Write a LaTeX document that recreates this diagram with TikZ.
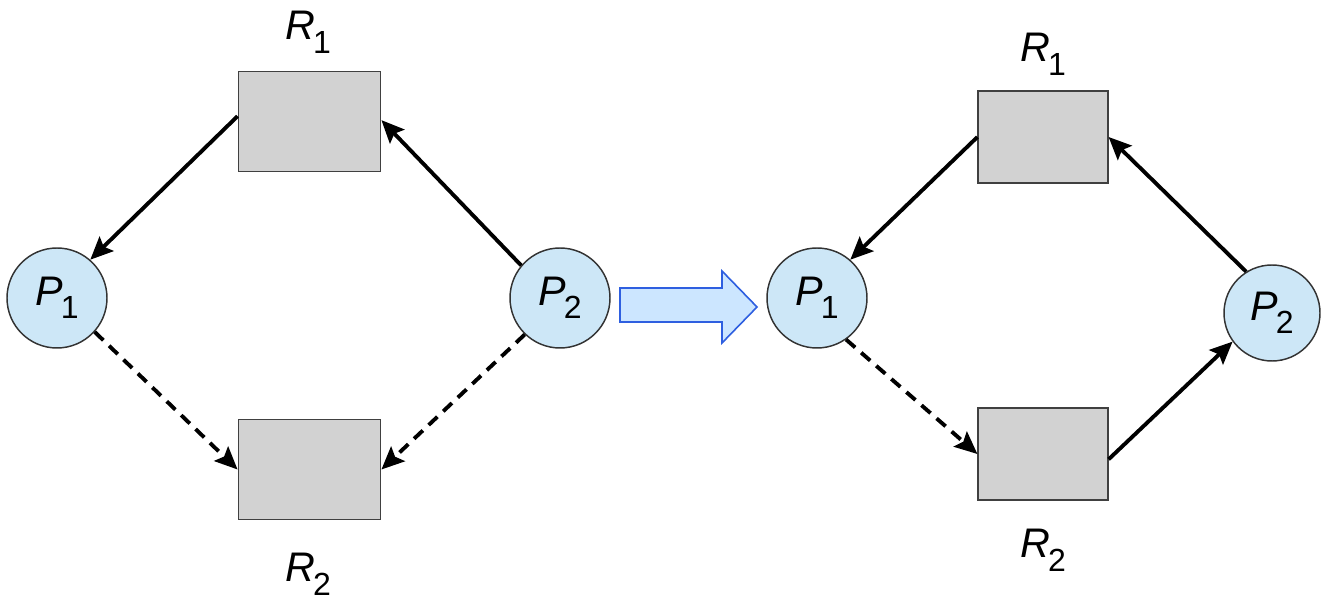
\documentclass[tikz,border=0pt]{standalone}
\usepackage{fontspec}
\setmainfont{Liberation Sans}
\usetikzlibrary{arrows.meta}
\definecolor{pfill}{HTML}{CDE7F7}
\definecolor{rfill}{HTML}{D2D2D2}
\definecolor{bfill}{HTML}{CCE6FF}
\definecolor{bdraw}{HTML}{2E5FE0}
\newcommand{\lab}[2]{{\fontsize{31}{31}\selectfont\itshape #1}\kern-1.5pt\raisebox{-10pt}{\fontsize{24}{24}\selectfont #2}}
\begin{document}
\begin{tikzpicture}[x=0.75pt,y=-0.75pt,
  proc/.style={circle,draw=black!80,line width=1.1pt,fill=pfill,minimum size=75pt,inner sep=0pt},
  resL/.style={rectangle,draw=black!75,line width=0.9pt,fill=rfill,minimum width=107pt,minimum height=75pt,inner sep=0pt},
  resR/.style={rectangle,draw=black!75,line width=0.9pt,fill=rfill,minimum width=97.5pt,minimum height=69pt,inner sep=0pt},
  lbl/.style={anchor=base,inner sep=0pt},
  edge/.style={line width=2.9pt,-{Stealth[length=17pt,width=15pt,inset=3pt]}},
  dedge/.style={edge,dash pattern=on 9pt off 6pt}
]
\useasboundingbox (0,0) rectangle (1322,605);
% left
\node[resL] (R1) at (309.5,121.5) {};
\node[resL] (R2) at (309.5,469.5) {};
\node[proc] (P1) at (57,298) {\lab{P}{1}};
\node[proc] (P2) at (560,298) {\lab{P}{2}};
\node[lbl] (l1) at (308,40) {\lab{R}{1}};
\node[lbl] (l2) at (308,582) {\lab{R}{2}};
\draw[edge] ([yshift=4pt]R1.west) -- (P1.49);
\draw[edge] (P2.140) -- ([yshift=1pt]R1.east);
\draw[dedge] (P1.318) -- (R2.west);
\draw[dedge] (P2.226) -- (R2.east);
% transition arrow
\draw[bdraw,fill=bfill,line width=1.2pt,line join=miter]
  (620,288) -- (722,288) -- (722,271) -- (757,307) -- (722,343) -- (722,322) -- (620,322) -- cycle;
% right
\node[resR] (S1) at (1043,137) {};
\node[resR] (S2) at (1043,454) {};
\node[proc] (Q1) at (817,298) {\lab{P}{1}};
\node[proc,minimum size=72pt] (Q2) at (1272,313) {\lab{P}{2}};
\node[lbl] (m1) at (1043,62) {\lab{R}{1}};
\node[lbl] (m2) at (1043,558) {\lab{R}{2}};
\draw[edge] (S1.west) -- (Q1.49);
\draw[edge] (Q2.122) -- (S1.east);
\draw[dedge] (Q1.305) -- (S2.west);
\draw[edge] ([yshift=-4pt]S2.east) -- (Q2.216);
\end{tikzpicture}
\end{document}
